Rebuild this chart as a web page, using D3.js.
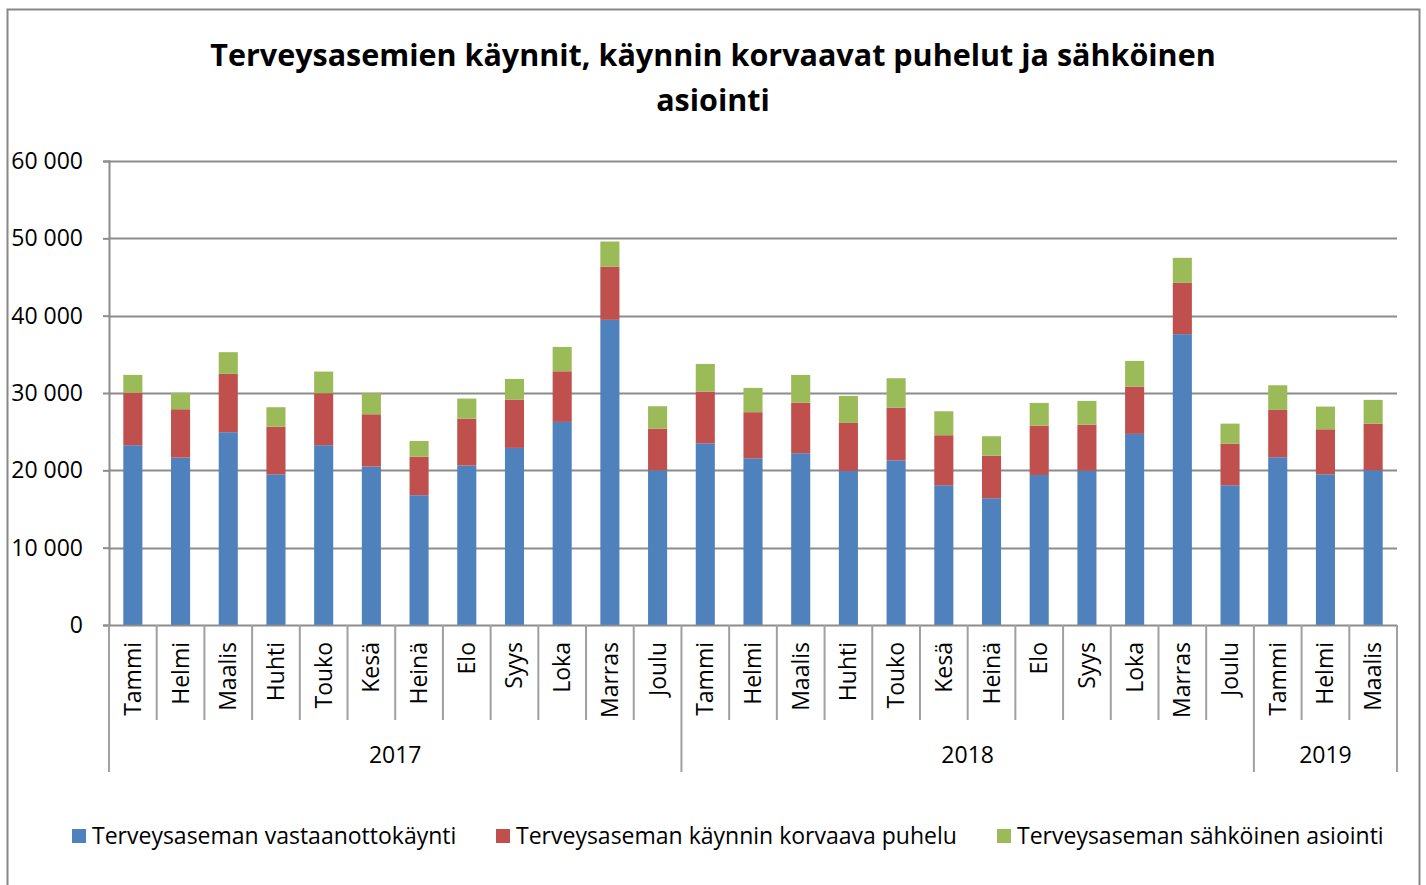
<!DOCTYPE html>
<html>
<head>
<meta charset="utf-8">
<script src="https://cdn.jsdelivr.net/npm/d3@7"></script>
<style>
  body { margin: 0; background: #fff; }
  text { font-family: "Open Sans", "Liberation Sans", sans-serif; fill: #000; }
</style>
</head>
<body>
<svg id="chart" width="1426" height="885"></svg>
<script>
// months shown under each bar
var months = ["Tammi","Helmi","Maalis","Huhti","Touko","Kesä","Heinä","Elo","Syys","Loka","Marras","Joulu",
              "Tammi","Helmi","Maalis","Huhti","Touko","Kesä","Heinä","Elo","Syys","Loka","Marras","Joulu",
              "Tammi","Helmi","Maalis"];
var years = ["2017","2018","2019"];
var yearCounts = [12, 12, 3];

var seriesNames = ["Terveysaseman vastaanottokäynti",
                   "Terveysaseman käynnin korvaava puhelu",
                   "Terveysaseman sähköinen asiointi"];
var colors = ["#4f81bd", "#c0504d", "#9bbb59"];

var visits = [23250,21640,24930,19490,23250,20480,16780,20610,22900,26260,39460,20010,
              23500,21560,22210,19920,21300,18070,16390,19400,19960,24710,37610,18070,
              21690,19490,20010];
var calls  = [6800,6260,7540,6160,6720,6770,4990,6080,6250,6550,6890,5390,
              6680,5960,6550,6210,6810,6470,5510,6390,5950,6120,6630,5390,
              6120,5820,6030];
var ehealth = [2290,2110,2810,2510,2800,2720,2030,2590,2670,3150,3240,2890,
               3580,3140,3580,3490,3800,3100,2510,2930,3070,3320,3240,2580,
               3190,2930,3070];

var yTicks = [0,10000,20000,30000,40000,50000,60000];

var svg = d3.select("#chart");
var plotLeft = 109, plotRight = 1397, plotTop = 161, plotBottom = 625;
var labelSize = 23;

// outer frame
svg.append("rect").attr("x", 7.5).attr("y", 9.5).attr("width", 1412).attr("height", 890)
    .attr("fill", "none").attr("stroke", "#888").attr("stroke-width", 2);

// title
svg.append("text").attr("x", 713).attr("y", 66).attr("text-anchor", "middle")
    .attr("font-size", 30.5).attr("font-weight", "bold")
    .text("Terveysasemien käynnit, käynnin korvaavat puhelut ja sähköinen");
svg.append("text").attr("x", 713).attr("y", 111).attr("text-anchor", "middle")
    .attr("font-size", 30.5).attr("font-weight", "bold")
    .text("asiointi");

var rows = months.map(function(m, i) {
    return {i: i, a: visits[i], b: calls[i], c: ehealth[i]};
});

var x = d3.scaleBand().domain(d3.range(months.length)).range([plotLeft, plotRight]).paddingInner(0.6).paddingOuter(0.3);
var y = d3.scaleLinear().domain([0, 60000]).range([plotBottom, plotTop]);

var fmt = d3.formatLocale({decimal: ",", thousands: " ", grouping: [3], currency: ["", ""]}).format(",d");

// gridlines
svg.append("g").selectAll("line").data(yTicks.slice(1)).enter().append("line")
    .attr("x1", plotLeft).attr("x2", plotRight)
    .attr("y1", function(d) { return Math.round(y(d)) + 0.5; })
    .attr("y2", function(d) { return Math.round(y(d)) + 0.5; })
    .attr("stroke", "#8c8c8c").attr("stroke-width", 2);

// y axis
var yAxis = svg.append("g").attr("transform", "translate(" + plotLeft + ",0)")
    .call(d3.axisLeft(y).tickValues(yTicks).tickFormat(fmt).tickSize(6).tickPadding(20));
yAxis.attr("font-family", null);
yAxis.select(".domain").attr("stroke", "#8c8c8c").attr("stroke-width", 2);
yAxis.selectAll(".tick line").attr("stroke", "#8c8c8c").attr("stroke-width", 2);
yAxis.selectAll(".tick text").attr("font-size", labelSize).attr("fill", "#000");

// stacked bars
var stack = d3.stack().keys(["a", "b", "c"]);
var layers = stack(rows);
svg.append("g").selectAll("g").data(layers).enter().append("g")
    .attr("fill", function(d, k) { return colors[k]; })
    .selectAll("rect").data(function(d) { return d; }).enter().append("rect")
    .attr("x", function(d) { return x(d.data.i); })
    .attr("width", x.bandwidth())
    .attr("y", function(d) { return y(d[1]); })
    .attr("height", function(d) { return y(d[0]) - y(d[1]); });

// category axis
var edge = function(i) { return plotLeft + i * (plotRight - plotLeft) / months.length; };
svg.append("line").attr("x1", plotLeft).attr("x2", plotRight).attr("y1", plotBottom + 0.5).attr("y2", plotBottom + 0.5)
    .attr("stroke", "#8c8c8c").attr("stroke-width", 2);
svg.append("g").selectAll("line").data(d3.range(months.length + 1)).enter().append("line")
    .attr("x1", function(i) { return edge(i); }).attr("x2", function(i) { return edge(i); })
    .attr("y1", plotBottom).attr("y2", 720)
    .attr("stroke", "#a0a0a0").attr("stroke-width", 2);

svg.append("g").selectAll("text").data(months).enter().append("text")
    .attr("transform", function(d, i) {
        return "translate(" + (x(i) + x.bandwidth() / 2 + 8) + ",642) rotate(-90)";
    })
    .attr("text-anchor", "end").attr("font-size", labelSize)
    .text(function(d) { return d; });

// year groups
var starts = [0];
yearCounts.forEach(function(c, k) { starts.push(starts[k] + c); });
svg.append("g").selectAll("line").data(starts).enter().append("line")
    .attr("x1", function(s) { return edge(s); }).attr("x2", function(s) { return edge(s); })
    .attr("y1", 720).attr("y2", 772)
    .attr("stroke", "#a0a0a0").attr("stroke-width", 2);
svg.append("g").selectAll("text").data(years).enter().append("text")
    .attr("x", function(d, k) { return (edge(starts[k]) + edge(starts[k + 1])) / 2; })
    .attr("y", 763).attr("text-anchor", "middle").attr("font-size", labelSize)
    .text(function(d) { return d; });

// legend
var legendX = [72, 496, 997];
var lg = svg.append("g").selectAll("g").data(seriesNames).enter().append("g")
    .attr("transform", function(d, k) { return "translate(" + legendX[k] + ",829)"; });
lg.append("rect").attr("width", 14).attr("height", 14).attr("fill", function(d, k) { return colors[k]; });
lg.append("text").attr("x", 20).attr("y", 15).attr("font-size", labelSize).text(function(d) { return d; });
</script>
</body>
</html>
